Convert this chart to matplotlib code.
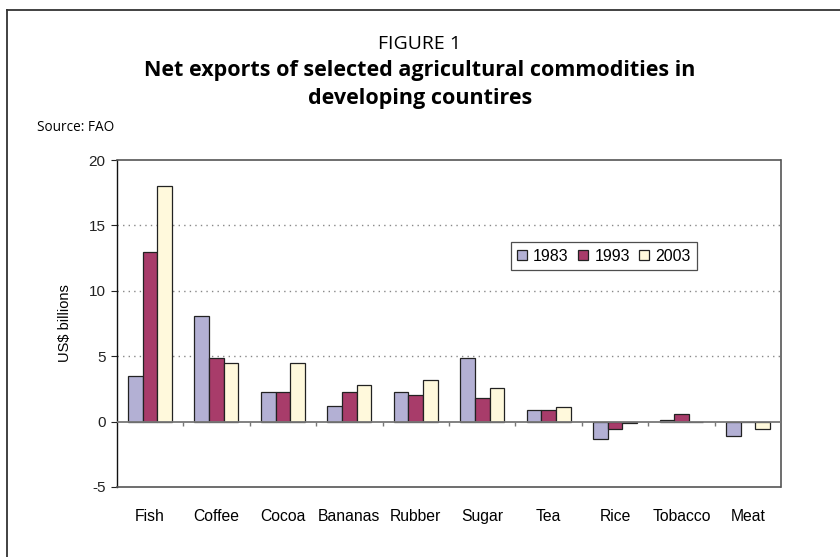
import matplotlib
matplotlib.use("Agg")
import matplotlib.pyplot as plt
import numpy as np
from matplotlib.lines import Line2D

# Данные графика
categories = ["Fish", "Coffee", "Cocoa", "Bananas", "Rubber",
              "Sugar", "Tea", "Rice", "Tobacco", "Meat"]
years = ["1983", "1993", "2003"]
values_1983 = [3.5, 8.1, 2.3, 1.2, 2.3, 4.9, 0.9, -1.3, 0.1, -1.1]
values_1993 = [13.0, 4.9, 2.3, 2.3, 2.0, 1.8, 0.9, -0.6, 0.6, 0.0]
values_2003 = [18.0, 4.5, 4.5, 2.8, 3.2, 2.6, 1.1, -0.1, 0.0, -0.6]
y_ticks = [-5, 0, 5, 10, 15, 20]

COLORS = ["#B3B0D4", "#A83C6A", "#FFF9DC"]
EDGE = "#222222"
BAR_W = 0.22
TITLE_FONT = ['Open Sans', 'DejaVu Sans']

plt.rcParams['font.family'] = ['Liberation Sans', 'DejaVu Sans']

fig = plt.figure(figsize=(8.4, 5.57), dpi=100)
ax = fig.add_axes([0.139, 0.1257, 0.791, 0.587])

x = np.arange(len(categories))
series = [values_1983, values_1993, values_2003]
for i, (vals, col, lab) in enumerate(zip(series, COLORS, years)):
    ax.bar(x + (i - 1) * BAR_W, vals, BAR_W, color=col, edgecolor=EDGE,
           linewidth=0.9, label=lab, zorder=3)

ax.set_xlim(-0.5, len(categories) - 0.5)
ax.set_ylim(-5, 20)
ax.set_yticks(y_ticks)
ax.set_yticklabels([str(t) for t in y_ticks], fontsize=11)
ax.set_xticks(x)
ax.set_xticklabels(categories, fontsize=11.3)
ax.tick_params(axis='x', length=0, pad=16)
ax.tick_params(axis='y', direction='out', length=4, width=0.8, colors='#222222', pad=4)

# сетка и нулевая линия
for t in y_ticks[2:-1]:
    ax.axhline(t, color='#888888', linestyle=(0, (1, 3)), linewidth=1.0, zorder=1)
ax.axhline(0, color='#777777', linewidth=1.3, zorder=4)
bounds = np.arange(0.5, len(categories) - 0.5, 1.0)
ax.vlines(bounds, -0.3, 0, color='#777777', linewidth=1.0, zorder=4)

ax.spines['left'].set_color('#111111')
ax.spines['left'].set_linewidth(1.0)
for s in ['top', 'right', 'bottom']:
    ax.spines[s].set_color('#555555')
    ax.spines[s].set_linewidth(1.2)
ax.spines['top'].set_linestyle((0, (2, 1)))
ax.spines['bottom'].set_linestyle((0, (2, 1)))

ax.set_ylabel("US$ billions", fontsize=10.5, labelpad=12)

leg = ax.legend(loc='upper left', bbox_to_anchor=(0.593, 0.748), ncol=3,
                frameon=True, fancybox=False, fontsize=11.5,
                handlelength=0.6, handleheight=0.6, handletextpad=0.4,
                columnspacing=0.6, borderpad=0.4, borderaxespad=0)
leg.get_frame().set_edgecolor('#222222')
leg.get_frame().set_linewidth(0.9)

# Заголовки
fig.text(0.5, 0.921, "FIGURE 1", ha='center', va='center', fontsize=14,
         family=TITLE_FONT)
fig.text(0.5, 0.849, "Net exports of selected agricultural commodities in\ndeveloping countires",
         ha='center', va='center', fontsize=15.5, fontweight='bold',
         family=TITLE_FONT, linespacing=1.45)
fig.text(0.044, 0.771, "Source: FAO", ha='left', va='center', fontsize=9.8,
         family=TITLE_FONT)

# рамка рисунка
fig.add_artist(Line2D([0.0083, 1.0], [0.982, 0.982], color='#333333', linewidth=1.3))
fig.add_artist(Line2D([0.0083, 0.0083], [0.0, 0.982], color='#333333', linewidth=1.3))

fig.savefig("out.png", dpi=100)
